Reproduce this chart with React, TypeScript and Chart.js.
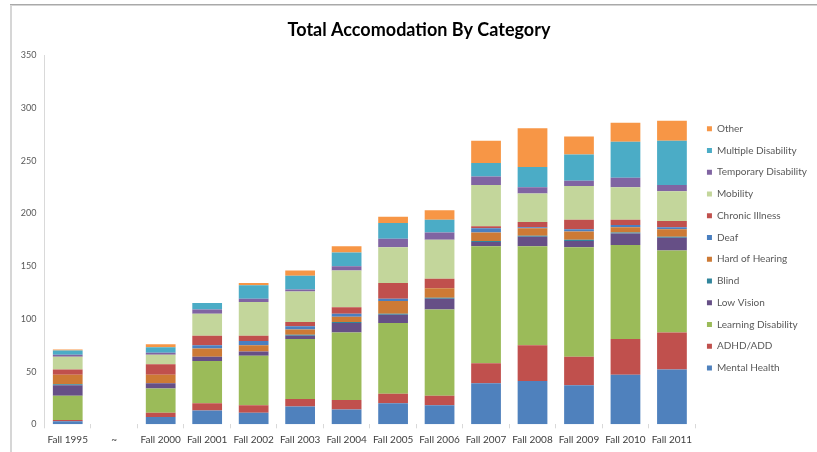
import React, { useEffect, useRef } from "react";
import { Chart, registerables } from "chart.js";

Chart.register(...registerables);

const categories = [
  "Fall 1995", "~", "Fall 2000", "Fall 2001", "Fall 2002", "Fall 2003", "Fall 2004",
  "Fall 2005", "Fall 2006", "Fall 2007", "Fall 2008", "Fall 2009", "Fall 2010", "Fall 2011",
];

const mentalHealth = [3, null, 7, 13, 11, 17, 14, 20, 18, 39, 41, 37, 47, 52];
const adhdAdd = [1, null, 4, 7, 7, 7, 9, 9, 9, 19, 34, 27, 34, 35];
const learningDisability = [23, null, 23, 40, 47, 57, 64, 67, 82, 111, 94, 104, 89, 78];
const lowVision = [10, null, 5, 4, 4, 3, 9, 8, 10, 4, 9, 6, 11, 12];
const blind = [1, null, 0, 0, 0, 1, 1, 1, 1, 1, 1, 1, 1, 1];
const hardOfHearing = [9, null, 8, 8, 6, 5, 5, 12, 9, 8, 7, 8, 5, 7];
const deaf = [0, null, 0, 3, 4, 3, 3, 2, 0, 4, 1, 2, 2, 2];
const chronicIllness = [5, null, 10, 9, 5, 4, 6, 15, 9, 2, 5, 9, 5, 6];
const mobility = [12, null, 9, 21, 32, 29, 35, 34, 37, 39, 27, 32, 31, 28];
const temporaryDisability = [2, null, 2, 4, 3, 2, 4, 8, 7, 8, 6, 5, 9, 6];
const multipleDisability = [4, null, 5, 6, 13, 13, 13, 15, 12, 13, 19, 25, 34, 42];
const other = [1, null, 3, 0, 2, 5, 6, 6, 9, 21, 37, 17, 18, 19];

const yTicks = { min: 0, max: 350, step: 50 };
const chartTitle = "Total Accomodation By Category";

const seriesNames = [
  "Mental Health", "ADHD/ADD", "Learning Disability", "Low Vision", "Blind",
  "Hard of Hearing", "Deaf", "Chronic Illness", "Mobility", "Temporary Disability",
  "Multiple Disability", "Other",
];
const seriesValues = [
  mentalHealth, adhdAdd, learningDisability, lowVision, blind, hardOfHearing,
  deaf, chronicIllness, mobility, temporaryDisability, multipleDisability, other,
];
const seriesColors = [
  "#4F81BD", "#C0504D", "#9BBB59", "#664F86", "#31859C", "#CD7A35",
  "#4A7FC0", "#C0504D", "#C3D69B", "#8064A2", "#4BACC6", "#F79646",
];

const FONT = "Lato, 'Open Sans', sans-serif";

const framePlugin = {
  id: "frame",
  beforeDraw(chart: any) {
    const ctx = chart.ctx;
    ctx.save();
    ctx.fillStyle = "#ffffff";
    ctx.fillRect(0, 0, chart.width, chart.height);
    ctx.strokeStyle = "#A9A9A9";
    ctx.lineWidth = 1.5;
    ctx.beginPath();
    ctx.moveTo(10, 4.75);
    ctx.lineTo(chart.width, 4.75);
    ctx.stroke();
    ctx.strokeStyle = "#D6D6D6";
    ctx.lineWidth = 2;
    ctx.beginPath();
    ctx.moveTo(11, 5);
    ctx.lineTo(11, chart.height);
    ctx.stroke();
    ctx.restore();
  },
};

export default function App() {
  const ref = useRef<HTMLCanvasElement | null>(null);

  useEffect(() => {
    if (!ref.current) return;
    const chart = new Chart(ref.current, {
      type: "bar",
      data: {
        labels: categories,
        datasets: seriesNames.map((name, i) => ({
          label: name,
          data: seriesValues[i],
          backgroundColor: seriesColors[i],
          borderWidth: 0,
          barPercentage: 0.64,
          categoryPercentage: 1,
        })),
      },
      options: {
        responsive: false,
        animation: false,
        layout: { padding: { left: 21, right: 0, top: 0, bottom: 0 } },
        plugins: {
          title: {
            display: true,
            text: chartTitle,
            color: "#000000",
            font: { family: FONT, size: 18, weight: "bold" },
            padding: { top: 19.5, bottom: 14.3 },
          },
          legend: {
            display: true,
            position: "right",
            fullSize: false,
            reverse: true,
            title: { display: true, text: "", padding: { top: 16, bottom: 0 }, font: { size: 1, lineHeight: 1 } },
            labels: {
              boxWidth: 5,
              boxHeight: 5,
              padding: 11.75,
              color: "#595959",
              font: { family: FONT, size: 10 },
            },
          },
          tooltip: { enabled: false },
        },
        scales: {
          x: {
            stacked: true,
            afterFit: (scale: any) => { scale.height = 27.7; },
            border: { display: false },
            grid: {
              display: true,
              drawOnChartArea: false,
              drawTicks: true,
              tickLength: 4,
              color: "#D9D9D9",
              offset: true,
            },
            ticks: {
              autoSkip: false,
              maxRotation: 0,
              minRotation: 0,
              padding: 5,
              color: "#404040",
              font: { family: FONT, size: 10 },
            },
          },
          y: {
            stacked: true,
            min: yTicks.min,
            max: yTicks.max,
            afterFit: (scale: any) => { scale.width = 23.5; },
            border: { display: true, color: "#D9D9D9", width: 1 },
            grid: { display: false, drawTicks: false },
            ticks: {
              stepSize: yTicks.step,
              padding: 8,
              color: "#595959",
              font: { family: FONT, size: 9 },
            },
          },
        },
      },
      plugins: [framePlugin],
    });
    return () => chart.destroy();
  }, []);

  return (
    <div style={{ position: "fixed", left: 0, top: 0, width: 817, height: 452, background: "#fff" }}>
      <canvas ref={ref} width={817} height={452} style={{ display: "block" }} />
    </div>
  );
}
